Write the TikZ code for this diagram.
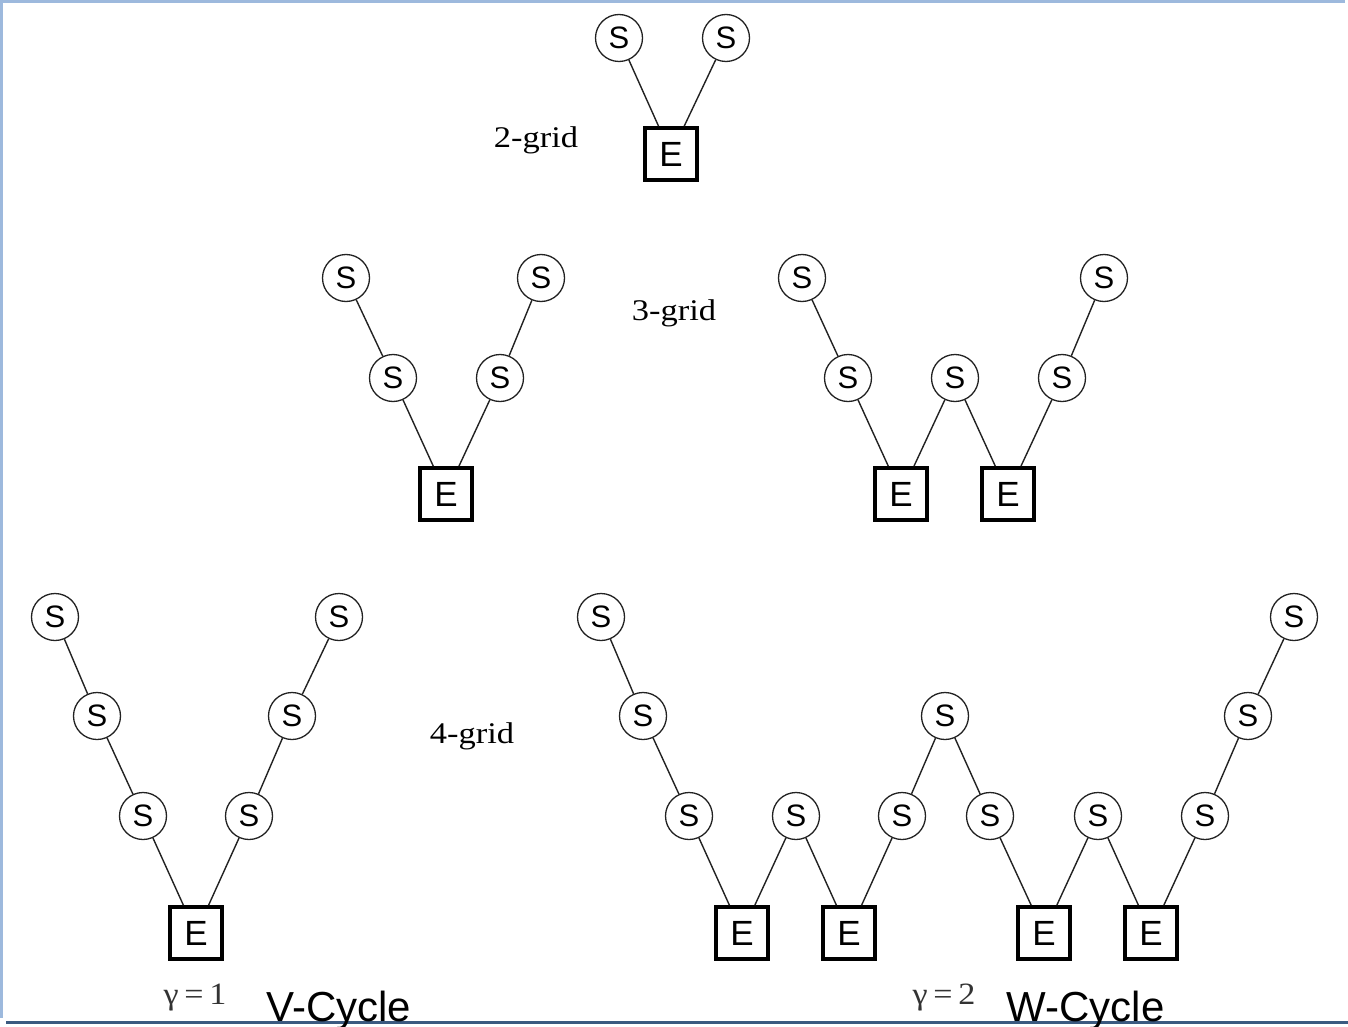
\documentclass[tikz,border=0pt]{standalone}
\usepackage{fontspec}
\setmainfont{Liberation Serif}
\newfontfamily\arialfont{Liberation Sans}
\definecolor{frameblue}{HTML}{9DB9DD}
\definecolor{rulenavy}{HTML}{3B5A80}
\definecolor{edgegray}{HTML}{222222}
\begin{document}
\begin{tikzpicture}[x=1pt,y=-1pt,
  smooth/.style={circle,draw=edgegray,line width=1.3pt,minimum size=47pt,inner sep=0pt,
    font=\arialfont\fontsize{31}{31}\selectfont},
  exact/.style={rectangle,draw=black,line width=3.6pt,minimum size=52pt,inner sep=0pt,
    font=\arialfont\fontsize{35}{35}\selectfont},
  link/.style={draw=edgegray,line width=1.4pt},
  gridlabel/.style={anchor=base,xscale=1.15,font=\fontsize{30}{30}\selectfont},
  gammalabel/.style={anchor=base,xscale=1.1,text=black!80,font=\fontsize{31}{31}\selectfont},
  cyclelabel/.style={anchor=base west,font=\arialfont\fontsize{42}{42}\selectfont}]
\useasboundingbox (0,0) rectangle (1348,1027);
\fill[white] (0,0) rectangle (1348,1027);
% frame lines
\draw[frameblue,line width=3pt] (0,1.5) -- (1345,1.5);
\draw[frameblue,line width=3pt] (1.5,0) -- (1.5,1018);
\draw[rulenavy,line width=3pt] (6,1022) -- (1348,1022);

% 2-grid
\node[smooth] (a1) at (619,38) {S};
\node[smooth] (a2) at (726,38) {S};
\node[exact] (aE) at (671,154) {E};
\draw[link] (a1) -- (aE) -- (a2);
\node[gridlabel] (l2) at (536,148) {2-grid};

% 3-grid, V-cycle
\node[smooth] (b1) at (346,278) {S};
\node[smooth] (b2) at (393,378) {S};
\node[exact] (bE) at (446,494) {E};
\node[smooth] (b3) at (500,378) {S};
\node[smooth] (b4) at (541,278) {S};
\draw[link] (b1) -- (b2) -- (bE) -- (b3) -- (b4);
\node[gridlabel] (l3) at (674,320) {3-grid};

% 3-grid, W-cycle
\node[smooth] (c1) at (802,278) {S};
\node[smooth] (c2) at (848,378) {S};
\node[exact] (cE1) at (901,494) {E};
\node[smooth] (c3) at (955,378) {S};
\node[exact] (cE2) at (1008,494) {E};
\node[smooth] (c4) at (1062,378) {S};
\node[smooth] (c5) at (1104,278) {S};
\draw[link] (c1) -- (c2) -- (cE1) -- (c3) -- (cE2) -- (c4) -- (c5);

% 4-grid, V-cycle
\node[smooth] (d1) at (55,617) {S};
\node[smooth] (d2) at (97,716) {S};
\node[smooth] (d3) at (143,816) {S};
\node[exact] (dE) at (196,933) {E};
\node[smooth] (d4) at (249,816) {S};
\node[smooth] (d5) at (292,716) {S};
\node[smooth] (d6) at (339,617) {S};
\draw[link] (d1) -- (d2) -- (d3) -- (dE) -- (d4) -- (d5) -- (d6);
\node[gridlabel] (l4) at (472,743) {4-grid};

% 4-grid, W-cycle
\node[smooth] (e1) at (601,617) {S};
\node[smooth] (e2) at (643,716) {S};
\node[smooth] (e3) at (689,816) {S};
\node[exact] (eE1) at (742,933) {E};
\node[smooth] (e4) at (796,816) {S};
\node[exact] (eE2) at (849,933) {E};
\node[smooth] (e5) at (902,816) {S};
\node[smooth] (e6) at (945,716) {S};
\node[smooth] (e7) at (990,816) {S};
\node[exact] (eE3) at (1044,933) {E};
\node[smooth] (e8) at (1098,816) {S};
\node[exact] (eE4) at (1151,933) {E};
\node[smooth] (e9) at (1205,816) {S};
\node[smooth] (e10) at (1248,716) {S};
\node[smooth] (e11) at (1294,617) {S};
\draw[link] (e1) -- (e2) -- (e3) -- (eE1) -- (e4) -- (eE2) -- (e5) -- (e6)
  -- (e7) -- (eE3) -- (e8) -- (eE4) -- (e9) -- (e10) -- (e11);

% cycle captions
\node[gammalabel] (g1) at (195,1004) {γ\,=\,1};
\node[cyclelabel] (v) at (263,1021) {V-Cycle};
\node[gammalabel] (g2) at (944,1004) {γ\,=\,2};
\node[cyclelabel] (w) at (1003,1021) {W-Cycle};
\end{tikzpicture}
\end{document}
